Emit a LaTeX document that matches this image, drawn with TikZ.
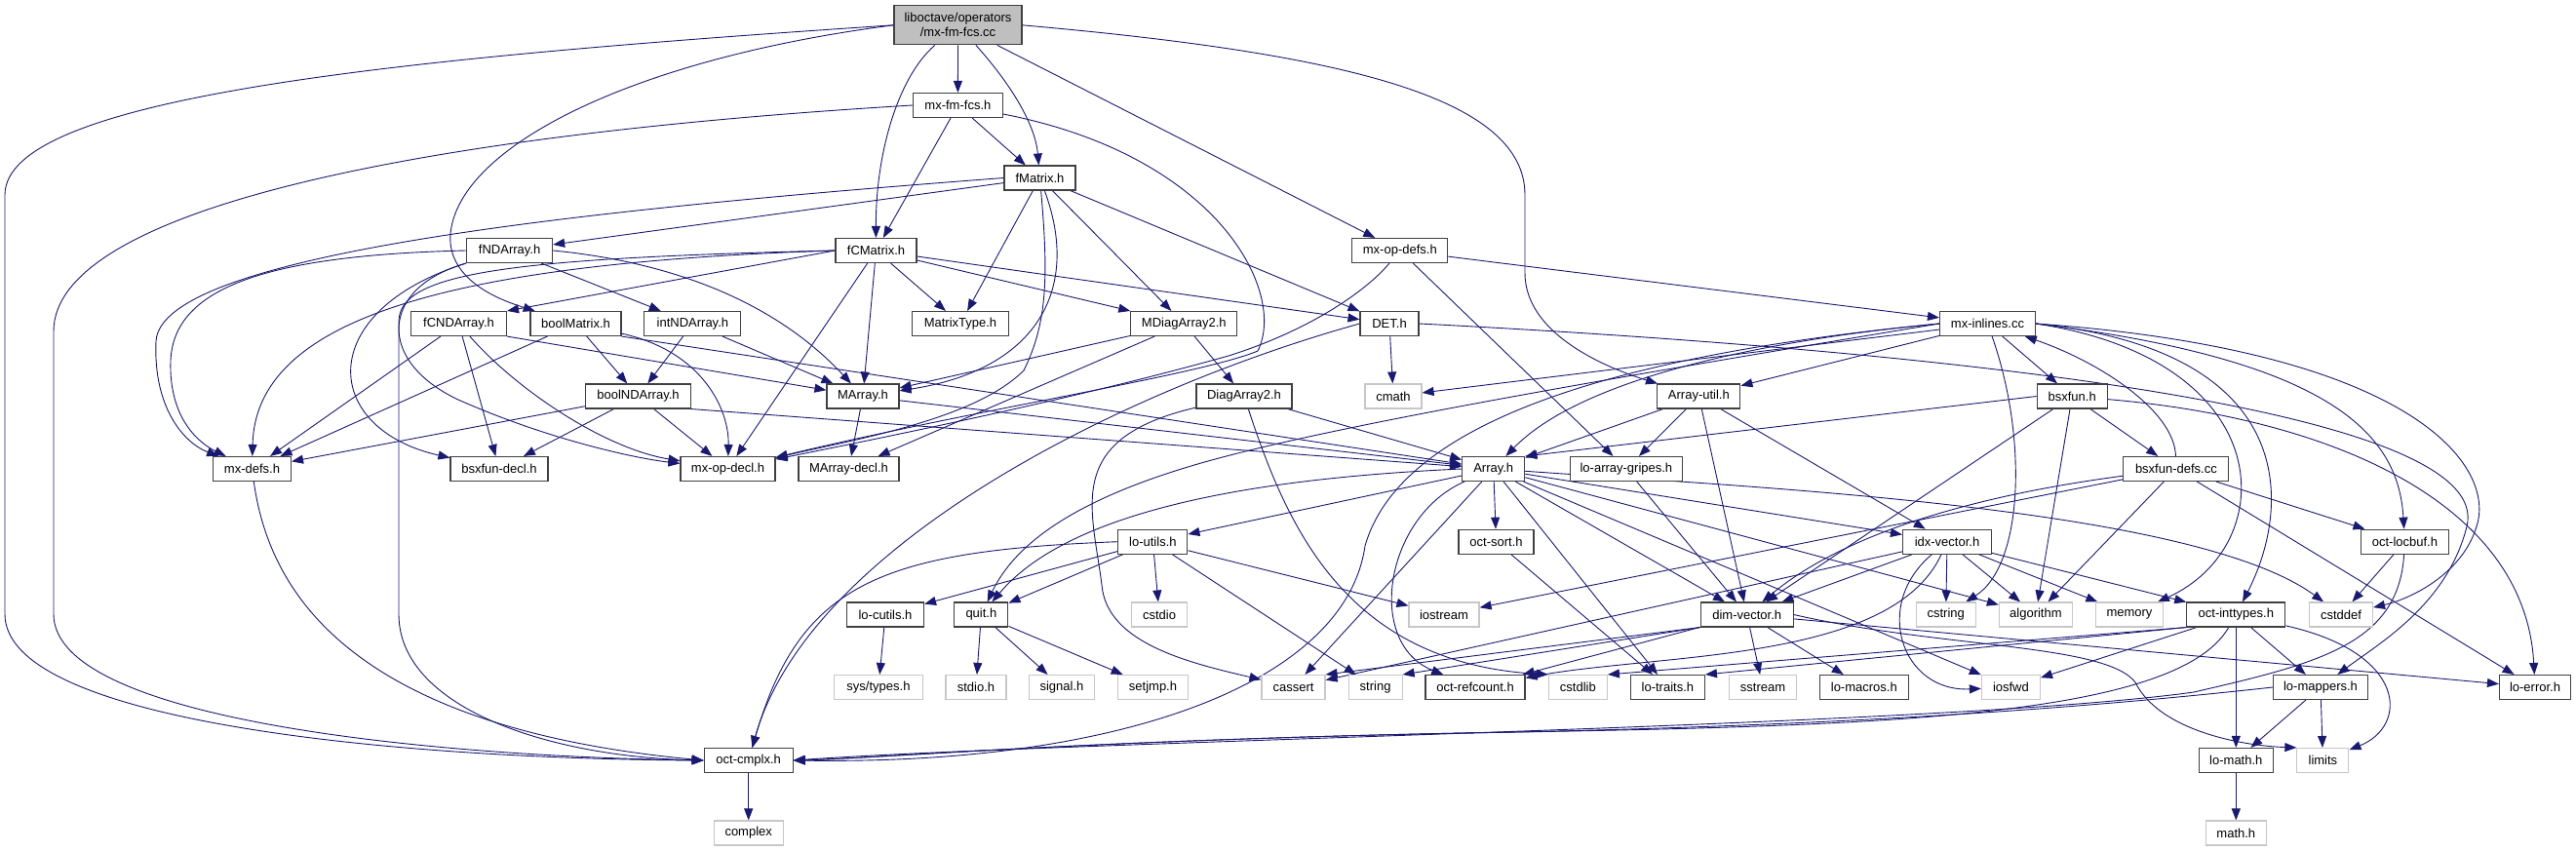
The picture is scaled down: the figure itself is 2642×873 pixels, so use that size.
\documentclass[tikz,border=0pt]{standalone}
\usepackage{fontspec}
\setmainfont{Liberation Sans}
\usetikzlibrary{arrows.meta}
\usetikzlibrary{backgrounds}
\usepackage{xcolor}
\definecolor{linkblue}{HTML}{191970}
\definecolor{rootgray}{HTML}{BFBFBF}

\begin{document}
\begin{tikzpicture}[x=1pt, y=-1pt,
  hdr/.style={draw=black!75, fill=white, line width=1.1pt, minimum height=25pt, inner sep=0pt, font=\fontsize{13}{15}\selectfont},
  sys/.style={hdr, draw=black!22},
  dep/.style={draw=linkblue, line width=0.9pt, -{Triangle[length=12pt, width=9pt]}}]
\useasboundingbox (0,0) rectangle (2642,873);

\node[hdr, fill=rootgray, minimum width=131pt, minimum height=40pt, align=center] (top) at (982.5,25.8) {liboctave/operators\\/mx-fm-fcs.cc};
\node[hdr, minimum width=92pt] (mxfmfcsh) at (982.4,108) {mx-fm-fcs.h};
\node[hdr, minimum width=73pt] (fmatrix) at (1066.5,182.5) {fMatrix.h};
\node[hdr, minimum width=88pt] (fndarray) at (522.6,257) {fNDArray.h};
\node[hdr, minimum width=83pt] (fcmatrix) at (898.5,257) {fCMatrix.h};
\node[hdr, minimum width=98pt] (mxopdefs) at (1435.8,257) {mx-op-defs.h};
\node[hdr, minimum width=98pt] (fcndarray) at (470.5,332) {fCNDArray.h};
\node[hdr, minimum width=93pt] (boolmatrix) at (590.5,332) {boolMatrix.h};
\node[hdr, minimum width=99pt] (intndarray) at (710.4,332) {intNDArray.h};
\node[hdr, minimum width=99pt] (matrixtype) at (985,332) {MatrixType.h};
\node[hdr, minimum width=109pt] (mdiagarray) at (1214.3,332) {MDiagArray2.h};
\node[hdr, minimum width=60pt] (det) at (1425,332) {DET.h};
\node[hdr, minimum width=98pt] (mxinlines) at (2038.5,332) {mx-inlines.cc};
\node[hdr, minimum width=108pt] (boolndarray) at (654.5,406.5) {boolNDArray.h};
\node[hdr, minimum width=74pt] (marray) at (885,406.5) {MArray.h};
\node[hdr, minimum width=98pt] (diagarray) at (1276,406.5) {DiagArray2.h};
\node[sys, minimum width=58pt] (cmath) at (1429,406.5) {cmath};
\node[hdr, minimum width=85pt] (arrayutil) at (1742.4,406.5) {Array-util.h};
\node[hdr, minimum width=72pt] (bsxfun) at (2125.2,406.5) {bsxfun.h};
\node[hdr, minimum width=80pt] (mxdefs) at (258.5,481) {mx-defs.h};
\node[hdr, minimum width=100pt] (bsxfundecl) at (512,481) {bsxfun-decl.h};
\node[hdr, minimum width=97pt] (mxopdecl) at (746.5,481) {mx-op-decl.h};
\node[hdr, minimum width=103pt] (marraydecl) at (870.5,481) {MArray-decl.h};
\node[hdr, minimum width=64pt] (array) at (1531.7,481) {Array.h};
\node[hdr, minimum width=115pt] (loarraygripes) at (1667.9,481) {lo-array-gripes.h};
\node[hdr, minimum width=108pt] (bsxfundefs) at (2231.9,481) {bsxfun-defs.cc};
\node[hdr, minimum width=71pt] (loutils) at (1182.4,555.7) {lo-utils.h};
\node[hdr, minimum width=77pt] (octsort) at (1534.5,555.7) {oct-sort.h};
\node[hdr, minimum width=91pt] (idxvector) at (1997,555.7) {idx-vector.h};
\node[hdr, minimum width=90pt] (octlocbuf) at (2466.4,555.7) {oct-locbuf.h};
\node[hdr, minimum width=79pt] (locutils) at (908,630.5) {lo-cutils.h};
\node[hdr, minimum width=55pt] (quit) at (1006.4,630.5) {quit.h};
\node[sys, minimum width=57pt] (cstdio) at (1189,630.5) {cstdio};
\node[sys, minimum width=72pt] (iostream) at (1481,630.5) {iostream};
\node[hdr, minimum width=95pt] (dimvector) at (1791.7,630.5) {dim-vector.h};
\node[sys, minimum width=61pt] (cstring) at (1995.7,630.5) {cstring};
\node[sys, minimum width=75pt] (algorithm) at (2087.9,630.5) {algorithm};
\node[sys, minimum width=69pt] (memory) at (2184,630.5) {memory};
\node[hdr, minimum width=101pt] (octinttypes) at (2293.3,630.5) {oct-inttypes.h};
\node[sys, minimum width=65pt] (cstddef) at (2401,630.5) {cstddef};
\node[sys, minimum width=91pt] (systypes) at (901,705) {sys/types.h};
\node[sys, minimum width=62pt] (stdioh) at (1001,705) {stdio.h};
\node[sys, minimum width=67pt] (signalh) at (1089,705) {signal.h};
\node[sys, minimum width=72pt] (setjmph) at (1182.5,705) {setjmp.h};
\node[sys, minimum width=65pt] (cassert) at (1326.5,705) {cassert};
\node[sys, minimum width=55pt] (string) at (1410.6,705) {string};
\node[hdr, minimum width=102pt] (octrefcount) at (1513,705) {oct-refcount.h};
\node[sys, minimum width=60pt] (cstdlib) at (1618.4,705) {cstdlib};
\node[hdr, minimum width=76pt] (lotraits) at (1710.4,705) {lo-traits.h};
\node[sys, minimum width=69pt] (sstream) at (1808,705) {sstream};
\node[hdr, minimum width=91pt] (lomacros) at (1911.8,705) {lo-macros.h};
\node[sys, minimum width=60pt] (iosfwd) at (2062.4,705) {iosfwd};
\node[hdr, minimum width=97pt] (lomappers) at (2380,705) {lo-mappers.h};
\node[hdr, minimum width=73pt] (loerror) at (2600,705) {lo-error.h};
\node[hdr, minimum width=91pt] (octcmplx) at (767.7,780) {oct-cmplx.h};
\node[hdr, minimum width=76pt] (lomath) at (2293.3,780) {lo-math.h};
\node[sys, minimum width=53pt] (limits) at (2382.4,780) {limits};
\node[sys, minimum width=71pt] (complex) at (767.7,854.5) {complex};
\node[sys, minimum width=62pt] (mathh) at (2293.3,854.5) {math.h};

\begin{scope}[on background layer]
\foreach \a/\b in {top/mxfmfcsh, top/mxopdefs, mxfmfcsh/fmatrix, mxfmfcsh/fcmatrix,
  fmatrix/fndarray, fmatrix/matrixtype, fmatrix/mdiagarray, fmatrix/det,
  fcmatrix/marray, fcmatrix/mxopdecl, fcmatrix/matrixtype, fcmatrix/mdiagarray, fcmatrix/det,
  fndarray/intndarray, fcndarray/mxdefs, fcndarray/bsxfundecl,
  boolmatrix/mxdefs, boolmatrix/boolndarray, intndarray/boolndarray, intndarray/marray,
  boolndarray/mxdefs, boolndarray/bsxfundecl, boolndarray/mxopdecl,
  marray/array, marray/marraydecl, mdiagarray/diagarray, mdiagarray/marray, mdiagarray/marraydecl,
  diagarray/array, det/cmath, mxopdefs/loarraygripes, mxopdefs/mxinlines,
  mxinlines/cmath, mxinlines/arrayutil, mxinlines/bsxfun,
  arrayutil/array, arrayutil/dimvector, arrayutil/idxvector, arrayutil/loarraygripes,
  bsxfun/dimvector, bsxfun/algorithm, bsxfun/bsxfundefs,
  bsxfundefs/iostream, bsxfundefs/algorithm, bsxfundefs/octlocbuf, bsxfundefs/loerror,
  array/loutils, array/octsort, array/idxvector, array/dimvector, array/lotraits, array/cassert, array/algorithm, array/iosfwd,
  loarraygripes/dimvector, loutils/locutils, loutils/quit, loutils/cstdio, loutils/iostream, loutils/string,
  octsort/lotraits, idxvector/dimvector, idxvector/cassert, idxvector/cstring, idxvector/algorithm, idxvector/memory, idxvector/octinttypes,
  dimvector/octrefcount, dimvector/sstream, dimvector/lomacros, dimvector/loerror,
  locutils/systypes, quit/stdioh, quit/signalh, quit/setjmph,
  octinttypes/iosfwd, octinttypes/lomath, octinttypes/lomappers, octlocbuf/cstddef,
  lomappers/lomath, lomappers/limits, lomath/mathh, octcmplx/complex}
  \draw[dep] (\a) -- (\b);

\draw[dep] (fcmatrix.west) -- (fcndarray.north east);
\draw[dep] (fcndarray.south east) -- (marray);
\draw[dep] (boolmatrix.south east) -- (array);
\draw[dep] (boolndarray.south east) -- (array);
\draw[dep] (bsxfun.west) -- (array.north east);
\draw[dep] (dimvector.south west) -- (string.north east);
\draw[dep] (dimvector.south west) -- (cassert.north east);
\draw[dep] (octinttypes.south west) -- (cstdlib.north east);
\draw[dep] (octinttypes.south west) -- (lotraits.north east);

\draw[dep] (top.west) .. controls (400,60) and (5,100) .. (5,200) -- (5,630) .. controls (5,740) and (400,778) .. (octcmplx.west);
\draw[dep] (mxfmfcsh.west) .. controls (400,140) and (55,220) .. (55,340) -- (55,630) .. controls (55,740) and (450,776) .. (octcmplx.west);
\draw[dep] (fcmatrix.west) .. controls (520,265) and (409,280) .. (409,330) -- (409,630) .. controls (409,725) and (560,776) .. (octcmplx.west);
\draw[dep] (mxdefs) .. controls (275,600) and (350,745) .. (octcmplx.west);
\draw[dep] (top.west) .. controls (650,60) and (470,150) .. (462,240) .. controls (458,290) and (520,310) .. (boolmatrix);
\draw[dep] (top) .. controls (920,80) and (898,160) .. (fcmatrix);
\draw[dep] (top) .. controls (1040,90) and (1062,130) .. (fmatrix);
\draw[dep] (top.east) .. controls (1380,55) and (1564,100) .. (1564,200) -- (1564,280) .. controls (1564,340) and (1640,375) .. (arrayutil);
\draw[dep] (mxfmfcsh) .. controls (1250,160) and (1320,300) .. (1290,360) .. controls (1230,385) and (1000,420) .. (mxopdecl);
\draw[dep] (fmatrix.west) .. controls (600,215) and (165,260) .. (160,350) .. controls (157,420) and (190,455) .. (mxdefs);
\draw[dep] (fndarray.west) .. controls (260,262) and (178,300) .. (175,370) .. controls (173,430) and (205,455) .. (mxdefs);
\draw[dep] (fcmatrix.west) .. controls (450,270) and (262,330) .. (mxdefs);
\draw[dep] (fndarray.south west) .. controls (390,295) and (385,370) .. (470,410) .. controls (560,450) and (650,470) .. (mxopdecl);
\draw[dep] (fndarray.south west) .. controls (320,320) and (330,440) .. (bsxfundecl);
\draw[dep] (fndarray.east) .. controls (700,270) and (800,315) .. (marray);
\draw[dep] (fcndarray) .. controls (530,400) and (620,460) .. (mxopdecl);
\draw[dep] (boolmatrix) .. controls (720,360) and (748,420) .. (mxopdecl);
\draw[dep] (fmatrix) .. controls (1110,300) and (1060,380) .. (marray);
\draw[dep] (fmatrix) .. controls (1075,280) and (1075,330) .. (1050,380) .. controls (1000,430) and (880,450) .. (mxopdecl);
\draw[dep] (mxopdefs) .. controls (1400,300) and (1340,340) .. (1260,365) .. controls (1100,410) and (900,450) .. (mxopdecl);
\draw[dep] (diagarray) .. controls (1090,450) and (1120,520) .. (1130,600) .. controls (1135,660) and (1220,680) .. (cassert);
\draw[dep] (diagarray) .. controls (1320,540) and (1380,680) .. (cstdlib.north west);
\draw[dep] (det.west) .. controls (1150,400) and (830,560) .. (octcmplx);
\draw[dep] (det.east) .. controls (2000,360) and (2560,420) .. (2530,540) .. controls (2510,620) and (2440,660) .. (lomappers);
\draw[dep] (loutils.west) .. controls (900,565) and (820,600) .. (octcmplx);
\draw[dep] (mxinlines.west) .. controls (1700,360) and (1440,420) .. (1400,560) .. controls (1380,700) and (1150,785) .. (octcmplx.east);
\draw[dep] (octinttypes) .. controls (2230,740) and (1900,745) .. (1500,752) .. controls (1100,760) and (900,778) .. (octcmplx.east);
\draw[dep] (lomappers.west) .. controls (2150,725) and (1900,745) .. (1500,752) .. controls (1100,760) and (900,778) .. (octcmplx.east);
\draw[dep] (octlocbuf) .. controls (2460,660) and (2380,680) .. (2250,710) .. controls (2000,745) and (1100,760) .. (octcmplx.east);
\draw[dep] (array) .. controls (1420,530) and (1400,660) .. (octrefcount);
\draw[dep] (array.west) .. controls (1300,490) and (1100,520) .. (quit);
\draw[dep] (mxinlines.west) .. controls (1700,380) and (1400,430) .. (1250,470) .. controls (1100,510) and (1040,560) .. (quit);
\draw[dep] (mxinlines.west) .. controls (1800,350) and (1620,390) .. (array);
\draw[dep] (array) .. controls (1800,500) and (2250,520) .. (cstddef);
\draw[dep] (idxvector) .. controls (1920,620) and (1950,710) .. (iosfwd);
\draw[dep] (idxvector) .. controls (1940,680) and (1700,670) .. (octrefcount);
\draw[dep] (dimvector.east) .. controls (1990,665) and (2160,660) .. (2190,700) .. controls (2215,750) and (2300,765) .. (limits.north west);
\draw[dep] (octinttypes) .. controls (2470,670) and (2470,745) .. (limits);
\draw[dep] (bsxfun) .. controls (2400,430) and (2590,520) .. (loerror);
\draw[dep] (bsxfundefs) .. controls (2230,420) and (2150,370) .. (mxinlines);
\draw[dep] (bsxfundefs) .. controls (2050,505) and (1900,540) .. (dimvector);
\draw[dep] (mxinlines) .. controls (2080,450) and (2075,580) .. (cstring);
\draw[dep] (mxinlines.east) .. controls (2340,370) and (2340,560) .. (memory);
\draw[dep] (mxinlines.east) .. controls (2360,360) and (2350,520) .. (octinttypes);
\draw[dep] (mxinlines.east) .. controls (2400,370) and (2460,450) .. (octlocbuf);
\draw[dep] (mxinlines.east) .. controls (2480,360) and (2560,480) .. (2540,540) .. controls (2525,590) and (2470,615) .. (cstddef);
\end{scope}
\end{tikzpicture}
\end{document}
